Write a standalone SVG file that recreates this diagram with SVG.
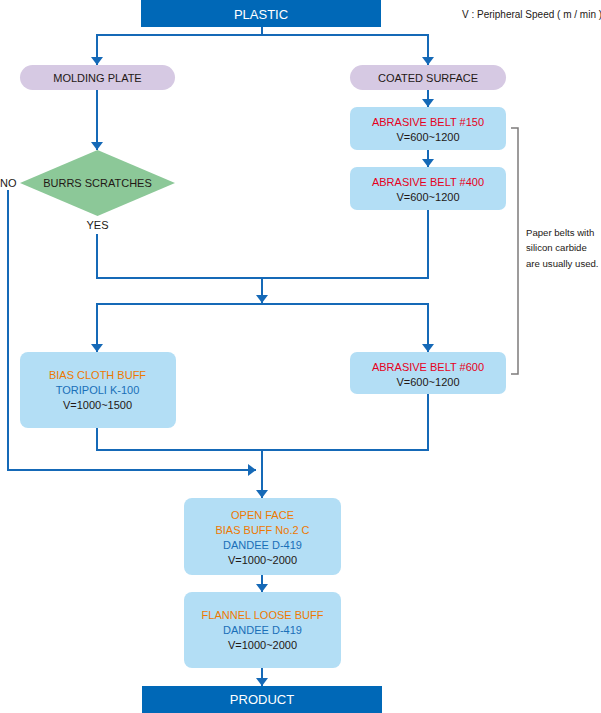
<svg xmlns="http://www.w3.org/2000/svg" width="601" height="713" viewBox="0 0 601 713">
<defs>
<style>
text{font-family:"Liberation Sans",Arial,sans-serif;font-size:11px;fill:#231815;text-anchor:middle}
.bar{fill:#0068b7}
.bt{fill:#fff;font-size:13px}
.pill{fill:#d6c9e3}
.box{fill:#b3def5}
.red{fill:#e60021}
.org{fill:#ee7800}
.blu{fill:#1a6fb8}
.note{font-size:9.6px;text-anchor:start}
.leg{font-size:10px;text-anchor:start}
.con path{fill:none;stroke:#1569b7;stroke-width:2}
</style>
<marker id="ah" viewBox="0 0 8 12" refX="8" refY="6" markerWidth="8" markerHeight="12" markerUnits="userSpaceOnUse" orient="auto">
<path d="M0,0 L8,6 L0,12 Z" fill="#1569b7"/>
</marker>
</defs>
<rect width="601" height="713" fill="#fff"/>
<g class="con">
<path d="M262,27 V35"/>
<path d="M262,35 H97 V65" marker-end="url(#ah)"/>
<path d="M262,35 H428 V65" marker-end="url(#ah)"/>
<path d="M97,90 V150" marker-end="url(#ah)"/>
<path d="M428,90 V107" marker-end="url(#ah)"/>
<path d="M428,150 V167" marker-end="url(#ah)"/>
<path d="M97,234 V278 H262"/>
<path d="M428,210 V278 H262"/>
<path d="M262,278 V303" marker-end="url(#ah)"/>
<path d="M262,304 H97 V352" marker-end="url(#ah)"/>
<path d="M262,304 H428 V352" marker-end="url(#ah)"/>
<path d="M97,428 V450 H262"/>
<path d="M428,394 V450 H262"/>
<path d="M262,450 V498" marker-end="url(#ah)"/>
<path d="M8,190 V470 H256" marker-end="url(#ah)"/>
<path d="M262,575 V592" marker-end="url(#ah)"/>
<path d="M262,668 V686" marker-end="url(#ah)"/>
<path d="M511,128 H518 V374 H511" style="stroke:#7d7b7b;stroke-width:1.5"/>
</g>
<g id="plastic">
<rect class="bar" x="141" y="0" width="240" height="27"/>
<text class="bt" x="261" y="19">PLASTIC</text>
</g>
<g id="legend">
<text class="leg" x="462" y="18">V : Peripheral Speed ( m / min )</text>
</g>
<g id="molding">
<rect class="pill" x="20" y="65" width="155" height="25" rx="12.5"/>
<text x="97.5" y="82">MOLDING PLATE</text>
</g>
<g id="coated">
<rect class="pill" x="350" y="65" width="156" height="25" rx="12.5"/>
<text x="428" y="82">COATED SURFACE</text>
</g>
<g id="burrs">
<polygon points="20,183 97.5,150 175,183 97.5,216" fill="#8cc898"/>
<text x="97.5" y="187">BURRS SCRATCHES</text>
<text x="0" y="187" style="text-anchor:start">NO</text>
<text x="97.5" y="229">YES</text>
</g>
<g id="belt150">
<rect class="box" x="350" y="107" width="156" height="43" rx="7"/>
<text class="red" x="428" y="126">ABRASIVE BELT #150</text>
<text x="428" y="141">V=600~1200</text>
</g>
<g id="belt400">
<rect class="box" x="350" y="167" width="156" height="43" rx="7"/>
<text class="red" x="428" y="186">ABRASIVE BELT #400</text>
<text x="428" y="201">V=600~1200</text>
</g>
<g id="note">
<text class="note" x="526" y="236">Paper belts with</text>
<text class="note" x="526" y="251">silicon carbide</text>
<text class="note" x="526" y="267">are usually used.</text>
</g>
<g id="biascloth">
<rect class="box" x="20" y="352" width="156" height="76" rx="8"/>
<text class="org" x="97.5" y="379">BIAS CLOTH BUFF</text>
<text class="blu" x="97.5" y="394">TORIPOLI K-100</text>
<text x="97.5" y="409">V=1000~1500</text>
</g>
<g id="belt600">
<rect class="box" x="350" y="352" width="156" height="42" rx="7"/>
<text class="red" x="428" y="371">ABRASIVE BELT #600</text>
<text x="428" y="386">V=600~1200</text>
</g>
<g id="openface">
<rect class="box" x="184" y="498" width="157" height="77" rx="8"/>
<text class="org" x="262.5" y="519">OPEN FACE</text>
<text class="org" x="262.5" y="534">BIAS BUFF No.2 C</text>
<text class="blu" x="262.5" y="549">DANDEE D-419</text>
<text x="262.5" y="564">V=1000~2000</text>
</g>
<g id="flannel">
<rect class="box" x="184" y="592" width="157" height="76" rx="8"/>
<text class="org" x="262.5" y="619">FLANNEL LOOSE BUFF</text>
<text class="blu" x="262.5" y="634">DANDEE D-419</text>
<text x="262.5" y="649">V=1000~2000</text>
</g>
<g id="product">
<rect class="bar" x="142" y="686" width="240" height="27"/>
<text class="bt" x="262" y="704">PRODUCT</text>
</g>
</svg>
